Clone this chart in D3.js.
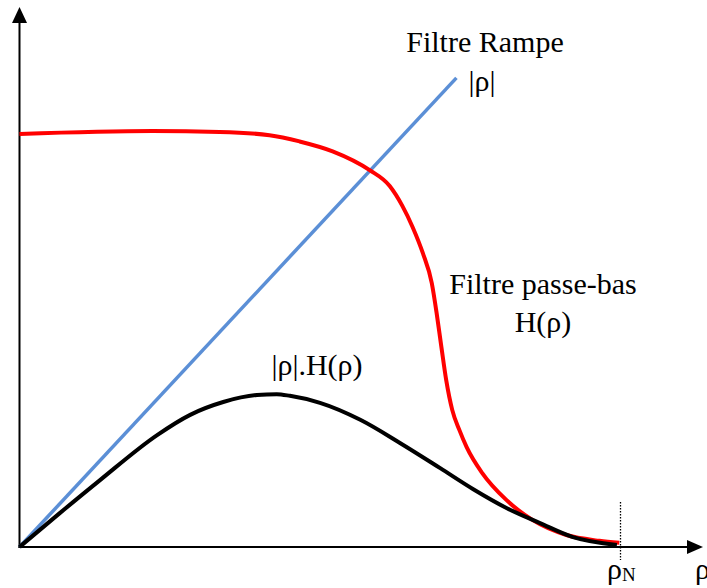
<!DOCTYPE html>
<html>
<head>
<meta charset="utf-8">
<script src="https://cdn.jsdelivr.net/npm/d3@7"></script>
<style>
  body { margin: 0; background: #fff; }
  svg { display: block; }
  text { font-family: "Liberation Serif", "Times New Roman", serif; fill: #000; }
</style>
</head>
<body>
<svg id="chart" width="707" height="588"></svg>
<script>
// rho normalised so that rho_N = 1, H(0) = 1
const rampRho = [0, 0.727];
const rampVal = [0, 1.136];

const lowpassRho = [0, 0.221, 0.333, 0.416, 0.466, 0.521, 0.582, 0.616, 0.637, 0.654, 0.671, 0.686,
  0.694, 0.702, 0.710, 0.720, 0.732, 0.744, 0.770, 0.810, 0.854, 0.910, 0.965, 0.998];
const lowpassVal = [1.000, 1.007, 1.005, 0.997, 0.982, 0.958, 0.913, 0.874, 0.826, 0.775, 0.712, 0.639,
  0.567, 0.484, 0.404, 0.332, 0.283, 0.242, 0.179, 0.114, 0.065, 0.029, 0.015, 0.010];

const productRho = [0, 0.067, 0.134, 0.229, 0.284, 0.339, 0.395, 0.428, 0.450, 0.500, 0.567, 0.633,
  0.700, 0.755, 0.811, 0.866, 0.921, 0.994];
const productVal = [0, 0.082, 0.162, 0.271, 0.320, 0.351, 0.368, 0.370, 0.366, 0.349, 0.308, 0.252,
  0.191, 0.140, 0.094, 0.058, 0.024, 0.005];

const rhoN = 1;

const svg = d3.select('#chart');

// scales
const x = d3.scaleLinear().domain([0, 1]).range([19.5, 620.5]);
const y = d3.scaleLinear().domain([0, 1]).range([547, 134]);

const zip = (a, b) => a.map((v, i) => [v, b[i]]);

const line = d3.line()
  .x(d => x(d[0]))
  .y(d => y(d[1]))
  .curve(d3.curveMonotoneX);

// axes with arrow heads
svg.append('line')
  .attr('x1', x(0)).attr('y1', y(0) + 1)
  .attr('x2', x(0)).attr('y2', 22)
  .attr('stroke', '#000').attr('stroke-width', 2);
svg.append('path')
  .attr('d', `M${x(0) - 7.5},23 L${x(0)},7 L${x(0) + 7.5},23 Z`)
  .attr('fill', '#000');

svg.append('line')
  .attr('x1', x(0) - 1).attr('y1', y(0))
  .attr('x2', 688).attr('y2', y(0))
  .attr('stroke', '#000').attr('stroke-width', 2);
svg.append('path')
  .attr('d', `M687,${y(0) - 7} L703,${y(0)} L687,${y(0) + 7} Z`)
  .attr('fill', '#000');

// dotted marker at rho_N
svg.append('line')
  .attr('x1', x(rhoN)).attr('x2', x(rhoN))
  .attr('y1', 502).attr('y2', 560)
  .attr('stroke', '#000').attr('stroke-width', 1.3)
  .attr('stroke-dasharray', '1.5,1.5');

// curves
svg.append('path')
  .attr('d', line(zip(rampRho, rampVal)))
  .attr('fill', 'none').attr('stroke', '#5b8fd6').attr('stroke-width', 3.5);

svg.append('path')
  .attr('d', line(zip(lowpassRho, lowpassVal)))
  .attr('fill', 'none').attr('stroke', '#ff0000').attr('stroke-width', 4);

svg.append('path')
  .attr('d', line(zip(productRho, productVal)))
  .attr('fill', 'none').attr('stroke', '#000').attr('stroke-width', 4);

// labels
const labels = [
  { t: 'Filtre Rampe', x: 485, y: 52 },
  { t: '|ρ|', x: 482, y: 91 },
  { t: 'Filtre passe-bas', x: 543, y: 294 },
  { t: 'H(ρ)', x: 543, y: 332 },
  { t: '|ρ|.H(ρ)', x: 317, y: 375 }
];
svg.selectAll('text.lbl')
  .data(labels)
  .enter()
  .append('text')
  .attr('class', 'lbl')
  .attr('x', d => d.x)
  .attr('y', d => d.y)
  .attr('text-anchor', 'middle')
  .style('font-size', '30px')
  .text(d => d.t);

const rn = svg.append('text')
  .attr('x', 607).attr('y', 579)
  .style('font-size', '30px');
rn.append('tspan').text('ρ');
rn.append('tspan').attr('dy', 2).style('font-size', '19px').text('N');

svg.append('text')
  .attr('x', 695).attr('y', 579)
  .style('font-size', '30px')
  .text('ρ');
</script>
</body>
</html>
